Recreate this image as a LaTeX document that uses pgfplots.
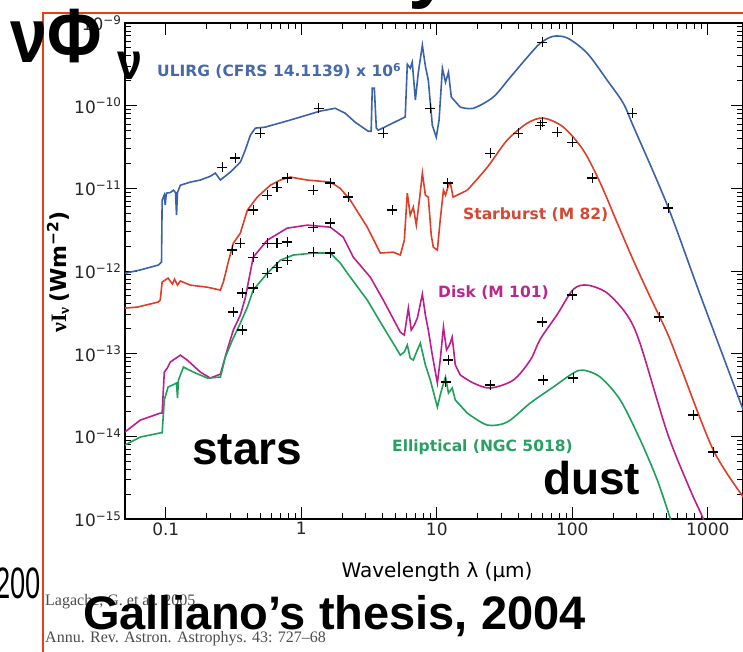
\documentclass[border=0pt]{standalone}
\usepackage{fontspec}
\usepackage{pgfplots}
\pgfplotsset{compat=1.18}
\setmainfont{Liberation Sans}
\newfontfamily\dejavu{DejaVu Sans}
\newfontfamily\serif{Liberation Serif}
\definecolor{cblue}{RGB}{58,98,170}
\definecolor{cred}{RGB}{222,62,40}
\definecolor{cmag}{RGB}{190,30,140}
\definecolor{cgreen}{RGB}{30,160,90}
\definecolor{tblue}{RGB}{70,105,170}
\definecolor{tred}{RGB}{215,72,52}
\definecolor{tmag}{RGB}{185,40,140}
\definecolor{tgreen}{RGB}{40,160,100}
\definecolor{frame}{RGB}{240,60,20}
\begin{document}
\begin{tikzpicture}[x=1pt,y=1pt]
\useasboundingbox (0,0) rectangle (743,652);
\draw[frame, line width=2pt] (43,-5) -- (43,639) -- (760,639);
\begin{axis}[at={(125pt,133pt)}, anchor=south west, scale only axis,
  width=618pt, height=496pt,
  xmode=log, ymode=log, xmin=0.05, xmax=1820, ymin=1e-15, ymax=1e-9,
  xtick={0.1,1,10,100,1000}, xticklabels={0.1,1,10,100,1000},
  ytick={1e-15,1e-14,1e-13,1e-12,1e-11,1e-10,1e-9},
  yticklabels={10\textsuperscript{−15},10\textsuperscript{−14},10\textsuperscript{−13},10\textsuperscript{−12},10\textsuperscript{−11},10\textsuperscript{−10},10\textsuperscript{−9}},
  tick align=inside, major tick length=12pt, minor tick length=6pt,
  axis line style={line width=1.3pt},
  every tick/.append style={line width=1pt, black},
  tick label style={font=\dejavu\fontsize{17}{20}\selectfont, text=black!85},
  clip=true]
% ---- ULIRG
\addplot[cblue, line width=1.6pt] coordinates {(0.05,9.4e-13) (0.0648,1.03e-12) (0.088,1.18e-12) (0.093,1.28e-12) (0.094,7.2e-12) (0.0975,8.3e-12) (0.099,6.3e-12) (0.101,8.75e-12) (0.108,8.9e-12) (0.114,9.5e-12) (0.118,8.9e-12) (0.120,4.74e-12) (0.122,8.9e-12) (0.128,1.09e-11) (0.152,1.19e-11) (0.180,1.26e-11) (0.213,1.40e-11) (0.232,1.53e-11) (0.253,1.26e-11) (0.299,1.57e-11) (0.355,2.07e-11) (0.386,2.9e-11) (0.421,4.4e-11) (0.458,5.35e-11) (0.542,5.5e-11) (0.829,6.7e-11) (1.38,8.6e-11) (1.78,9.3e-11) (2.11,8.1e-11) (2.50,6.3e-11) (3.12,4.9e-11) (3.28,4.9e-11) (3.34,1.63e-10) (3.46,1.63e-10) (3.58,5.35e-11) (3.70,5.05e-11) (5.85,7.3e-11) (6.06,3.17e-10) (6.37,2.84e-10) (6.59,3.36e-10) (6.95,1.17e-10) (7.31,2.54e-10) (7.83,5.4e-10) (8.24,3.0e-10) (8.66,2.03e-10) (9.27,5.8e-11) (9.91,4.16e-11) (10.4,6.7e-11) (11.0,2.84e-10) (11.6,1.92e-10) (12.2,2.54e-10) (12.8,1.27e-10) (14.9,9.6e-11)};
\addplot[cblue, line width=1.6pt, smooth] coordinates {(14.9,9.6e-11) (18.6,9.3e-11) (26.1,1.27e-10) (34.9,2.21e-10) (46.6,3.86e-10) (58.1,5.7e-10) (72.4,6.9e-10) (92.6,6.55e-10) (129,4.3e-10) (181,2.03e-10) (238,1.07e-10) (282,5.65e-11) (503,6.25e-12) (881,5.1e-13) (1828,2.08e-14)};
% ---- Starburst
\addplot[cred, line width=1.6pt] coordinates {(0.05,3.56e-13) (0.0617,3.66e-13) (0.088,4.21e-13) (0.091,4.45e-13) (0.094,7.35e-13) (0.099,7.77e-13) (0.104,8.2e-13) (0.112,6.95e-13) (0.116,7.97e-13) (0.122,6.75e-13) (0.128,7.57e-13) (0.152,6.75e-13) (0.203,6.37e-13) (0.253,5.88e-13) (0.266,7.35e-13) (0.289,1.28e-12) (0.315,2.17e-12) (0.355,2.87e-12) (0.400,5.45e-12) (0.473,7.83e-12) (0.590,1.09e-11) (0.70,1.26e-11) (0.829,1.37e-11) (1.107,1.26e-11) (1.64,1.19e-11) (1.94,1.0e-11) (2.30,7.2e-12) (3.07,3.39e-12) (3.83,1.65e-12) (4.77,1.69e-12) (5.38,1.56e-12) (5.76,2.36e-12) (6.06,8.75e-12) (6.37,4.74e-12) (6.71,5.93e-12) (7.06,3.59e-12) (7.44,7.2e-12) (7.83,1.53e-11) (8.24,8.26e-12) (8.66,7.83e-12) (9.1,2.72e-12) (9.42,1.95e-12) (10.1,1.79e-12) (10.6,4.13e-12) (11.2,9.5e-12) (11.6,8.26e-12) (12.2,1.09e-11) (12.6,1.16e-11) (13.2,7.83e-12) (16.8,9.5e-12)};
\addplot[cred, line width=1.6pt, smooth] coordinates {(16.8,9.5e-12) (23.6,1.80e-11) (33.1,3.83e-11) (46.6,6.15e-11) (61.3,7.07e-11) (86,5.5e-11) (120.5,2.9e-11) (161,1.16e-11) (215,3.8e-12) (282,1.35e-12) (376,4.84e-13) (503,1.77e-13) (627,7.07e-14) (1098,6.83e-15) (1828,1.85e-15)};
% ---- Disk
\addplot[cmag, line width=1.6pt] coordinates {(0.05,1.13e-14) (0.0648,1.57e-14) (0.091,1.91e-14) (0.094,1.91e-14) (0.0975,5.98e-14) (0.1026,6.7e-14) (0.108,7.92e-14) (0.128,9.6e-14) (0.144,8.37e-14) (0.180,5.98e-14) (0.213,5.07e-14) (0.253,5.66e-14) (0.284,1.11e-13) (0.315,1.93e-13) (0.355,2.93e-13) (0.386,4.70e-13) (0.442,1.47e-12) (0.561,2.36e-12) (0.787,3.30e-12) (1.107,3.59e-12) (1.64,3.39e-12) (2.04,2.57e-12) (2.42,1.47e-12) (3.23,8.43e-13) (4.03,4.45e-13) (5.38,1.82e-13) (5.76,1.68e-13) (6.17,3.56e-13) (6.48,1.93e-13) (6.83,2.22e-13) (7.19,2.70e-13) (7.83,5.26e-13) (8.24,2.93e-13) (8.66,1.93e-13) (9.27,9.6e-14) (10.1,4.42e-14) (10.6,8.37e-14) (11.2,2.10e-13) (11.8,1.11e-13) (12.4,1.27e-13) (13.0,1.59e-13) (13.7,7.3e-14) (14.9,5.52e-14)};
\addplot[cmag, line width=1.6pt, smooth] coordinates {(14.9,5.52e-14) (18.6,4.42e-14) (24.8,3.84e-14) (36.7,4.79e-14) (49.0,8.37e-14) (58.1,1.50e-13) (77.6,3.0e-13) (101.7,6.0e-13) (129,6.75e-13) (181,5.41e-13) (255,2.9e-13) (318,1.3e-13) (503,1.10e-14) (743,2.24e-15) (927,1.0e-15) (1100,4.5e-16)};
% ---- Elliptical
\addplot[cgreen, line width=1.6pt] coordinates {(0.05,7.85e-15) (0.0648,9.8e-15) (0.091,1.10e-14) (0.094,1.10e-14) (0.0975,2.75e-14) (0.104,3.95e-14) (0.112,4.17e-14) (0.120,4.42e-14) (0.122,2.9e-14) (0.124,4.79e-14) (0.135,6.88e-14) (0.160,5.98e-14) (0.203,5.07e-14) (0.253,5.21e-14) (0.275,9.1e-14) (0.310,1.46e-13) (0.355,2.34e-13) (0.400,3.66e-13) (0.442,5.88e-13) (0.561,9.4e-13) (0.70,1.35e-12) (0.872,1.56e-12) (1.226,1.65e-12) (1.64,1.65e-12) (1.94,1.25e-12) (2.19,9.4e-13) (3.07,4.45e-13) (4.03,2.10e-13) (5.11,1.11e-13) (5.38,9.6e-14) (5.76,1.05e-13) (6.06,1.27e-13) (6.37,8.85e-14) (6.71,8.37e-14) (7.19,1.11e-13) (7.56,1.34e-13) (8.24,7.3e-14) (8.96,4.79e-14) (10.1,2.26e-14) (10.6,3.16e-14) (11.0,3.95e-14) (11.6,5.21e-14) (12.2,3.34e-14) (13.0,3.84e-14) (13.7,2.75e-14) (16.8,1.91e-14)};
\addplot[cgreen, line width=1.6pt, smooth] coordinates {(16.8,1.91e-14) (23.6,1.37e-14) (33.1,1.49e-14) (49.0,2.53e-14) (72.4,3.95e-14) (101.7,5.83e-14) (120.5,6.33e-14) (161,5.21e-14) (226,2.75e-14) (318,9.0e-15) (424,2.96e-15) (530,1.0e-15) (600,5.0e-16)};
% ---- photometry
\addplot[only marks, mark=+, mark size=5pt, mark options={line width=1.3pt, black}] coordinates {(0.261,1.8e-11) (0.326,2.32e-11) (0.50,4.65e-11) (1.34,9.3e-11) (4.03,4.65e-11) (8.96,9.3e-11) (60.2,5.85e-10) (277,8.1e-11) (512,5.76e-12)};
\addplot[only marks, mark=+, mark size=5pt, mark options={line width=1.3pt, black}] coordinates {(0.310,1.79e-12) (0.355,2.17e-12) (0.442,5.45e-12) (0.561,8.26e-12) (0.663,1.03e-11) (0.787,1.33e-11) (1.226,9.5e-12) (1.64,1.16e-11) (2.22,7.83e-12) (4.69,5.45e-12) (12.0,1.16e-11) (24.8,2.66e-11) (40.0,4.65e-11) (58.1,5.8e-11) (60.2,6.3e-11) (77.6,4.78e-11) (100,3.62e-11) (140.5,1.33e-11) (438,2.77e-13) (781,1.81e-14) (1098,6.47e-15)};
\addplot[only marks, mark=+, mark size=5pt, mark options={line width=1.3pt, black}] coordinates {(0.315,3.19e-13) (0.367,5.41e-13) (0.442,1.47e-12) (0.561,2.17e-12) (0.663,2.17e-12) (0.787,2.24e-12) (1.226,3.39e-12) (1.64,3.80e-12) (12.2,8.37e-14) (24.8,4.17e-14) (60.2,2.41e-13) (100,5.11e-13)};
\addplot[only marks, mark=+, mark size=5pt, mark options={line width=1.3pt, black}] coordinates {(0.367,1.93e-13) (0.442,6.21e-13) (0.561,9.4e-13) (0.663,1.11e-12) (0.787,1.35e-12) (1.226,1.69e-12) (1.64,1.65e-12) (11.6,4.54e-14) (61.3,4.79e-14) (101.7,5.07e-14)};
\end{axis}
% curve labels
\node[anchor=base west, inner sep=0, text=tblue] at (157,575) {\dejavu\bfseries\fontsize{15.5}{16}\selectfont ULIRG (CFRS 14.1139) x 10\textsuperscript{6}};
\node[anchor=base west, inner sep=0, text=tred] at (463,432) {\dejavu\bfseries\fontsize{15.5}{16}\selectfont Starburst (M 82)};
\node[anchor=base west, inner sep=0, text=tmag] at (438,354) {\dejavu\bfseries\fontsize{15.5}{16}\selectfont Disk (M 101)};
\node[anchor=base west, inner sep=0, text=tgreen] at (392,200) {\dejavu\bfseries\fontsize{15.5}{16}\selectfont Elliptical (NGC 5018)};
% axis labels
\node[anchor=base, inner sep=0] at (437,74) {\dejavu\fontsize{20}{20}\selectfont Wavelength λ (μm)};
\node[rotate=90, anchor=base, inner sep=0] at (66,380) {\fontsize{22}{22}\selectfont{\serif\bfseries νI}\textsubscript{\serif\bfseries ν}\,{\dejavu\bfseries (Wm\textsuperscript{−2})}};
% slide annotations
\node[anchor=base west, inner sep=0] at (192,187) {\bfseries\fontsize{46}{46}\selectfont stars};
\node[anchor=base west, inner sep=0] at (543,157) {\bfseries\fontsize{46}{46}\selectfont dust};
\node[anchor=base west, inner sep=0, text=black!70] at (45,46) {\serif\fontsize{16}{16}\selectfont Lagache, G. et al. 2005};
\node[anchor=base west, inner sep=0, text=black!70] at (45,9) {\serif\fontsize{16}{16}\selectfont Annu. Rev. Astron. Astrophys. 43: 727–68};
\node[anchor=base west, inner sep=0] at (83,22) {\bfseries\fontsize{47}{47}\selectfont Galliano’s thesis, 2004};
\node[anchor=base east, inner sep=0] at (41,53) {\scalebox{0.62}[1]{\fontsize{44}{44}\selectfont 200}};
\node[anchor=base west, inner sep=0] at (10,589) {\scalebox{0.86}[1]{\bfseries\fontsize{77}{77}\selectfont νΦ}};
\node[anchor=base west, inner sep=0] at (117,572) {\scalebox{0.86}[1]{\bfseries\fontsize{52}{52}\selectfont ν}};
\node[anchor=base west, inner sep=0] at (408,658) {\bfseries\fontsize{77}{77}\selectfont y};
\end{tikzpicture}
\end{document}
